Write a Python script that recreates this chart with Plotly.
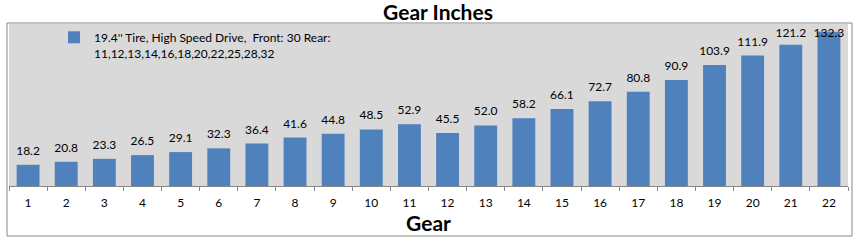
import plotly.graph_objects as go

gears = [str(i) for i in range(1, 23)]
gear_inches = [18.2, 20.8, 23.3, 26.5, 29.1, 32.3, 36.4, 41.6, 44.8, 48.5, 52.9,
               45.5, 52.0, 58.2, 66.1, 72.7, 80.8, 90.9, 103.9, 111.9, 121.2, 132.3]
series_name = "19.4'' Tire, High Speed Drive,&nbsp; Front: 30 Rear:<br>11,12,13,14,16,18,20,22,25,28,32"
chart_title = "Gear Inches"
x_title = "Gear"

W, H = 861, 246
L, R, T, B = 9, 13, 24, 60
plot_h = H - T - B
YMAX = 139.0
ppu = plot_h / YMAX  # pixels per unit

FONT = "Lato, Carlito, Calibri, sans-serif"

fig = go.Figure()
fig.add_trace(go.Bar(
    x=gears, y=gear_inches, name=series_name,
    marker=dict(color="#4F81BD", line=dict(width=0)),
    showlegend=True,
))

# data labels (placed above the bars, kept inside the plot area)
label_y = [min(v + 13 / ppu, YMAX - 10 / ppu) for v in gear_inches]
fig.add_trace(go.Scatter(
    x=gears, y=label_y, mode="text", text=[f"{v:.1f}" for v in gear_inches],
    textposition="middle center", showlegend=False, hoverinfo="skip",
    textfont=dict(family=FONT, size=12, color="#000000"), cliponaxis=False,
))

# chart border
fig.add_shape(type="rect", xref="paper", yref="paper",
              x0=(7 - L) / (W - L - R), x1=(852 - L) / (W - L - R),
              y0=-(236 - (H - B)) / plot_h, y1=1 + 1 / plot_h,
              line=dict(color="#868686", width=1), layer="below")

fig.update_layout(
    width=W, height=H,
    margin=dict(l=L, r=R, t=T, b=B),
    paper_bgcolor="#ffffff",
    plot_bgcolor="#D9D9D9",
    bargap=0.4,
    font=dict(family=FONT, size=11, color="#000000"),
    title=dict(text=f"<b>{chart_title}</b>", xref="container", yref="container",
               x=438 / W, y=1 - 13 / H, xanchor="center", yanchor="middle",
               font=dict(family=FONT, size=21, color="#000000")),
    legend=dict(x=(54 - L) / (W - L - R), y=1 + 1 / plot_h, xanchor="left", yanchor="top",
                bgcolor="rgba(0,0,0,0)", font=dict(family=FONT, size=12),
                valign="top", itemwidth=30),
    xaxis=dict(type="category", range=[-0.5, len(gears) - 0.5],
               showgrid=False, showline=True, linecolor="#868686",
               linewidth=1, ticks="outside", tickson="boundaries", ticklen=4,
               tickcolor="#868686", tickfont=dict(family=FONT, size=12),
               ticklabelstandoff=6,
               title=dict(text=f"<b>{x_title}</b>", standoff=1,
                          font=dict(family=FONT, size=21)),
               fixedrange=True),
    yaxis=dict(range=[0, YMAX], visible=False, showgrid=False, fixedrange=True),
)

fig.write_html("out.html")
